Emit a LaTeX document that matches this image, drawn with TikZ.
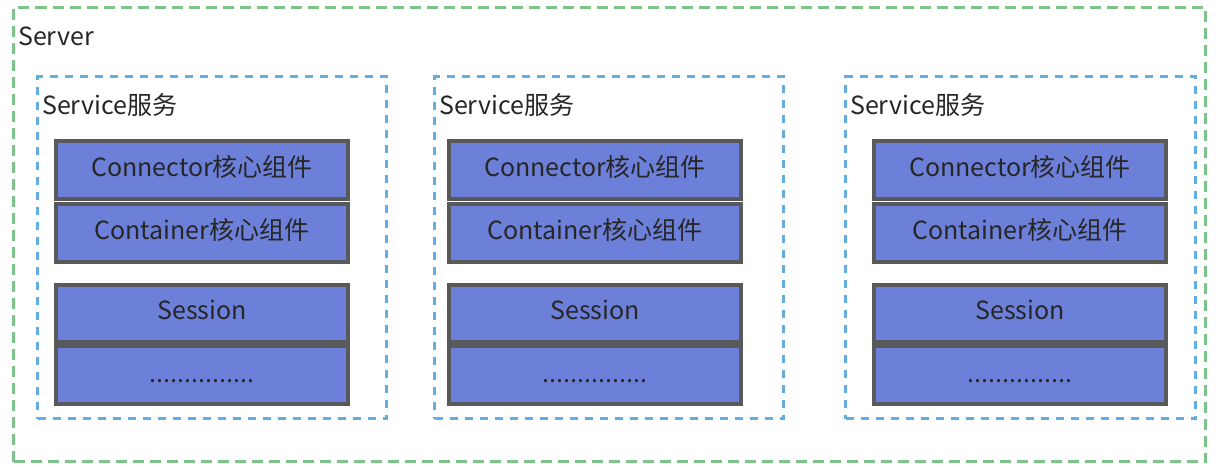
\documentclass[tikz,border=0pt]{standalone}
\usepackage{fontspec}
\setmainfont{Noto Sans CJK SC}
\usetikzlibrary{positioning}
\definecolor{servergreen}{HTML}{7CC48A}
\definecolor{serviceblue}{HTML}{62AEE4}
\definecolor{blockfill}{HTML}{6D80D9}
\definecolor{blockline}{HTML}{58595B}
\definecolor{labeltext}{HTML}{262626}
\tikzset{
	serverframe/.style={draw=servergreen, line width=3pt, dash pattern=on 11pt off 6pt, inner sep=0pt, anchor=north west},
	serviceframe/.style={draw=serviceblue, line width=3pt, dash pattern=on 8pt off 7pt, inner sep=0pt, anchor=north west},
	block/.style={draw=blockline, fill=blockfill, line width=4pt, minimum width=292pt, minimum height=58pt,
		inner sep=0pt, text height=18pt, text depth=6pt, text=labeltext, font=\fontsize{25}{29}\selectfont},
	title/.style={anchor=west, inner sep=0pt, text=labeltext, font=\fontsize{25}{29}\selectfont}
}
\begin{document}
\begin{tikzpicture}[x=1pt, y=-1pt]
	\useasboundingbox (0,0) rectangle (1220,466);
	\node[serverframe, minimum width=1192pt, minimum height=454pt] (server) at (12,6) {};
	\node[title] (servertitle) at (18,36) {Server};
	\foreach \i/\sx/\sw/\bx in {1/36/349/54, 2/433/349/447, 3/844/350/872} {
		\node[serviceframe, minimum width=\sw pt, minimum height=342pt] (svc\i) at (\sx,75) {};
		\node[title] (svctitle\i) at (\sx+6,105) {Service服务};
		\node[block, anchor=north west] (conn\i) at (\bx,139) {Connector核心组件};
		\node[block, below=1pt of conn\i] (cont\i) {Container核心组件};
		\node[block, minimum height=57pt, below=19pt of cont\i] (sess\i) {Session};
		\node[block, below=0pt of sess\i, text depth=3pt] (more\i) {...............};
	}
\end{tikzpicture}
\end{document}
